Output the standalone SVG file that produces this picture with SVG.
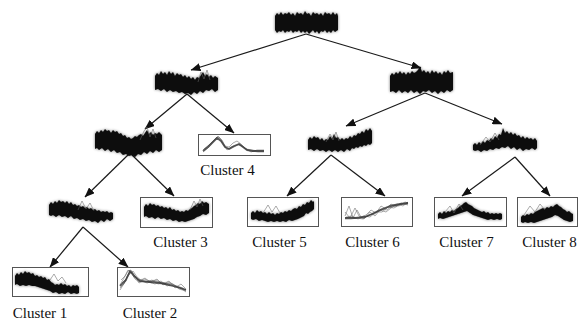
<svg xmlns="http://www.w3.org/2000/svg" width="578" height="322" viewBox="0 0 578 322">
<style>
.blob{fill:#0a0a0a;filter:url(#soft)}
.box{fill:#fff;stroke:#555;stroke-width:1}
.g{fill:none;stroke:#666;stroke-width:1;stroke-opacity:0.55;stroke-linejoin:round}
.dk{fill:none;stroke:#333;stroke-width:1.8;stroke-opacity:0.8;stroke-linejoin:round}
.edge{stroke:#1a1a1a;stroke-width:1.2;fill:none;marker-end:url(#ah)}
.lbl{font-family:"Liberation Serif","Times New Roman",serif;font-size:15px;fill:#111;text-anchor:middle}
</style>
<defs>
<filter id="soft" x="-10%" y="-30%" width="120%" height="160%">
<feGaussianBlur in="SourceGraphic" stdDeviation="1.4" result="h"/>
<feComponentTransfer in="h" result="h2"><feFuncA type="linear" slope="0.55"/></feComponentTransfer>
<feGaussianBlur in="SourceGraphic" stdDeviation="0.5" result="c"/>
<feMerge><feMergeNode in="h2"/><feMergeNode in="c"/></feMerge>
</filter>
<marker id="ah" viewBox="0 0 10 8" refX="9.5" refY="4" markerWidth="10" markerHeight="8" markerUnits="userSpaceOnUse" orient="auto"><path d="M0,0 L10,4 L0,8 Z" fill="#111"/></marker>
</defs>
<rect width="578" height="322" fill="#fff"/>
<g id="connectors">
<line class="edge" x1="306" y1="34" x2="191" y2="70"/>
<line class="edge" x1="306" y1="34" x2="421" y2="68"/>
<line class="edge" x1="187" y1="94" x2="145" y2="129"/>
<line class="edge" x1="187" y1="94" x2="234" y2="133"/>
<line class="edge" x1="425" y1="93" x2="346" y2="126"/>
<line class="edge" x1="425" y1="93" x2="502" y2="124"/>
<line class="edge" x1="130" y1="153" x2="85" y2="197"/>
<line class="edge" x1="130" y1="153" x2="174" y2="196"/>
<line class="edge" x1="331" y1="155" x2="287" y2="196"/>
<line class="edge" x1="331" y1="155" x2="385" y2="196"/>
<line class="edge" x1="515" y1="157" x2="462" y2="196"/>
<line class="edge" x1="515" y1="157" x2="550" y2="196"/>
<line class="edge" x1="83" y1="227" x2="50" y2="267"/>
<line class="edge" x1="83" y1="227" x2="128" y2="267"/>
</g>
<g id="root">
<polygon class="blob" points="275,16 277,13 279,15 281,12 283,15 285,13 287,14 289,12 291,15 293,13 295,16 297,12 299,14 301,13 303,15 305,11 307,14 309,13 311,16 313,12 315,14 317,13 319,15 321,13 323,16 325,12 327,14 329,13 331,15 333,12 335,15 337,13 338,16 338,30 335,32 333,30 331,33 329,31 327,33 325,30 323,32 321,31 319,34 317,31 315,33 313,30 311,32 309,34 307,31 305,33 303,31 301,33 299,30 297,32 295,31 293,33 291,30 289,32 287,31 285,33 283,30 281,32 279,31 277,33 275,30"/>
</g>
<g id="n-left">
<polygon class="blob" points="155,76 157,73 159,75 161,71 163,74 165,72 167,75 169,71 171,74 173,72 175,76 177,73 179,75 181,74 183,77 185,75 187,78 189,76 191,79 193,77 195,80 197,77 199,78 201,75 203,72 205,76 207,74 209,77 211,75 213,78 215,76 218,78 218,90 215,92 212,89 209,91 206,90 203,93 200,91 197,94 194,92 191,95 188,93 185,94 182,92 179,93 176,91 173,92 170,90 167,92 164,89 161,91 158,89 155,90"/>
<polyline class="g" points="198,82 201,72 204,79 207,70 210,80"/>
</g>
<g id="n-right">
<polygon class="blob" points="390,76 392,73 394,75 396,72 398,74 400,71 402,74 404,72 406,75 408,72 410,74 412,71 414,73 416,72 418,70 420,66 422,72 424,70 426,73 428,71 430,74 432,70 434,73 436,71 438,74 440,72 442,75 444,71 446,73 448,70 450,73 453,72 453,90 450,92 447,90 444,93 441,91 438,94 435,91 432,93 429,90 426,92 423,91 420,94 417,91 414,93 411,90 408,93 405,91 402,93 399,90 396,93 393,91 390,92"/>
</g>
<g id="n-ll">
<polygon class="blob" points="95,134 97,131 99,133 101,130 103,132 105,129 107,131 109,130 111,133 113,130 115,132 117,131 119,134 121,133 123,136 125,135 127,138 129,137 131,139 133,138 135,136 137,137 139,135 141,134 143,136 145,133 147,130 149,134 151,132 153,135 155,133 157,134 159,132 162,135 162,150 159,152 156,150 153,153 150,151 147,154 144,152 141,155 138,154 135,157 132,155 129,156 126,154 123,155 120,152 117,153 114,150 111,152 108,149 105,151 102,148 99,150 97,148 95,149"/>
<polyline class="g" points="140,140 144,131 147,127 150,137 153,129 156,138"/>
</g>
<g id="n-rl">
<polygon class="blob" points="308,140 310,137 312,139 314,136 316,138 318,137 320,140 322,138 324,141 326,139 328,140 330,136 332,139 334,134 336,138 338,137 340,140 342,138 344,140 346,138 348,139 350,136 352,138 354,135 356,136 358,133 360,134 362,131 364,133 366,129 368,131 370,128 372,131 372,143 370,145 368,144 366,146 364,145 362,147 360,146 358,148 356,147 354,149 352,148 350,151 347,149 344,152 341,150 338,152 335,150 332,152 329,150 326,152 323,150 320,151 317,149 314,151 311,149 308,150"/>
<polyline class="g" points="326,142 330,134 333,140 336,132 339,141"/>
</g>
<g id="n-rr">
<polygon class="blob" points="473,145 475,143 477,145 479,142 481,144 483,141 485,143 487,140 489,141 491,138 493,140 495,136 497,138 499,134 501,135 503,128 505,133 507,131 509,134 511,132 513,135 515,133 517,136 519,135 521,138 523,136 525,139 527,137 529,139 531,138 533,140 535,138 537,141 537,148 535,150 532,148 529,150 526,149 523,151 520,148 517,150 514,147 511,149 508,146 505,148 502,147 499,149 496,148 493,150 490,149 487,151 484,150 481,152 478,150 475,151 473,150"/>
<polyline class="g" points="480,145 486,137 490,142 495,133 499,140"/>
</g>
<g id="n-lll">
<polygon class="blob" points="49,205 51,202 53,204 55,201 57,203 59,200 61,202 63,201 65,203 67,201 69,204 71,202 73,205 75,204 77,206 79,205 81,207 83,206 85,208 87,207 89,209 91,208 93,210 95,209 97,211 99,210 101,212 103,211 105,212 107,211 109,213 111,212 113,213 113,219 110,221 107,219 104,222 101,220 98,223 95,221 92,222 89,220 86,221 83,219 80,220 77,218 74,219 71,216 68,218 65,216 62,217 59,215 56,217 53,215 51,216 49,215"/>
<polyline class="g" points="78,210 82,201 86,209 90,203 94,211"/>
</g>
<g id="cluster1">
<rect class="box" x="12.5" y="267.5" width="76" height="29"/>
<polygon class="blob" points="15,276 17,273 19,275 21,272 23,274 25,271 27,273 29,272 31,274 33,273 35,276 37,275 39,277 41,276 43,278 45,277 47,280 49,279 51,282 53,283 55,285 57,284 59,285 61,283 63,285 65,284 67,286 69,285 71,287 73,285 75,286 77,285 79,287 79,293 77,294 74,293 71,294 68,292 65,294 62,293 59,294 56,292 53,293 50,291 47,290 44,289 41,288 38,287 35,286 32,286 29,285 26,286 23,285 20,286 17,284 15,285"/>
<polyline class="g" points="50,280 54,274 58,281 62,277 66,283"/>
<text class="lbl" x="40" y="318">Cluster 1</text>
</g>
<g id="cluster2">
<rect class="box" x="117.5" y="267.5" width="72" height="29"/>
<polyline class="g" points="120,285 124,278 128,271 131,270 134,275 138,280 144,279 150,281 156,280 162,283 168,282 174,285 180,287 186,290"/>
<polyline class="g" points="120,290 125,282 129,273 132,272 136,278 140,281 146,282 152,280 158,284 164,283 170,286 176,286 182,289 186,292"/>
<polyline class="g" points="121,280 125,276 128,270 132,274 135,279 139,282 145,278 151,283 157,279 163,285 169,281 175,288 181,284 186,289"/>
<polyline class="g" points="120,288 124,284 127,276 131,271 135,276 139,283 143,281 149,282 155,284 161,281 167,286 173,284 179,289 186,291"/>
<polyline class="g" points="122,283 126,279 129,275 133,271 137,277 141,280 147,283 153,281 159,282 165,284 171,283 177,287 183,288 186,290"/>
<polyline class="dk" points="120,286 126,280 130,271 134,276 140,281 150,282 160,283 170,285 180,288 186,290"/>
<text class="lbl" x="150" y="318">Cluster 2</text>
</g>
<g id="cluster3">
<rect class="box" x="140.5" y="197.5" width="72" height="30"/>
<polygon class="blob" points="144,207 146,204 148,206 150,203 152,205 154,204 156,206 158,205 160,207 162,206 164,208 166,207 168,209 170,207 172,210 174,209 176,211 178,210 180,212 182,211 184,212 186,210 188,211 190,209 192,208 194,206 196,205 198,203 200,204 202,201 204,203 206,202 209,204 209,213 206,215 203,214 200,216 197,217 194,219 191,220 188,221 185,222 182,221 179,222 176,220 173,221 170,219 167,220 164,218 161,219 158,217 155,219 152,217 149,218 146,216 144,217"/>
<polyline class="g" points="190,210 194,201 197,207 200,199 203,206"/>
<text class="lbl" x="180.5" y="247">Cluster 3</text>
</g>
<g id="cluster4">
<rect class="box" x="198.5" y="134.5" width="72" height="21"/>
<polyline class="g" points="203,150 208,146 213,141 217,137 220,139 223,144 227,150 231,147 235,146 239,144 243,147 247,150 252,151 258,152 264,152"/>
<polyline class="g" points="203,152 208,148 212,143 216,139 219,137 222,141 226,148 230,149 234,147 238,145 242,146 246,149 252,150 258,151 264,151"/>
<polyline class="g" points="204,149 209,145 214,140 218,136 222,140 225,146 229,147 233,143 237,141 241,144 245,148 251,152 257,150 264,150"/>
<polyline class="dk" points="203,151 208,147 213,142 217,138 221,141 225,147 229,149 234,146 239,144 243,147 247,150 253,151 259,151 264,151"/>
<text class="lbl" x="227.5" y="175">Cluster 4</text>
</g>
<g id="cluster5">
<rect class="box" x="247.5" y="197.5" width="71" height="29"/>
<polygon class="blob" points="251,213 253,211 255,213 257,210 259,212 261,211 263,213 265,212 267,214 269,212 271,214 273,213 275,215 277,213 279,214 281,212 283,213 285,211 287,212 289,210 291,211 293,209 295,208 297,209 299,206 301,207 303,204 305,205 307,202 309,203 311,200 313,202 314,201 314,209 312,211 310,212 308,214 306,213 304,216 302,217 300,218 298,219 295,220 292,221 289,220 286,222 283,221 280,222 277,221 274,222 271,221 268,222 265,221 262,220 259,221 256,219 253,220 251,219"/>
<polyline class="g" points="263,213 268,205 272,212 276,206 280,213"/>
<text class="lbl" x="279.5" y="247">Cluster 5</text>
</g>
<g id="cluster6">
<rect class="box" x="341.5" y="197.5" width="71" height="29"/>
<polyline class="g" points="345,218 350,217 356,218 362,217 368,216 374,213 380,211 386,208 392,207 398,205 404,204 408,203"/>
<polyline class="g" points="345,216 349,206 353,218 357,210 361,217 366,215 371,210 376,213 381,206 386,209 391,204 396,207 401,203 408,205"/>
<polyline class="g" points="345,219 351,219 357,218 363,219 369,215 375,214 381,209 387,210 393,205 399,206 405,202 408,203"/>
<polyline class="g" points="345,212 350,218 355,208 359,216 364,219 370,212 375,216 380,210 386,212 391,208 397,204 403,206 408,202"/>
<polyline class="g" points="346,217 352,216 358,219 364,216 370,217 376,212 382,212 388,207 394,208 400,204 408,204"/>
<polyline class="dk" points="345,218 355,218 365,217 372,214 380,210 390,206 400,204 408,203"/>
<text class="lbl" x="372.5" y="247">Cluster 6</text>
</g>
<g id="cluster7">
<rect class="box" x="434.5" y="197.5" width="72" height="29"/>
<polygon class="blob" points="438,214 440,212 442,214 444,211 446,213 448,211 450,212 452,210 454,211 456,209 458,208 460,206 462,205 464,203 466,202 468,204 470,205 472,206 474,208 476,209 478,210 480,211 482,212 484,211 486,213 488,212 490,214 492,213 494,214 496,213 498,214 500,213 502,214 502,219 500,220 497,219 494,220 491,219 488,220 485,219 482,218 479,217 476,216 473,215 470,213 467,211 464,212 461,213 458,214 455,215 452,216 449,217 446,218 443,219 440,218 438,219"/>
<polyline class="g" points="445,212 450,206 454,213 459,204 463,210"/>
<text class="lbl" x="466.5" y="247">Cluster 7</text>
</g>
<g id="cluster8">
<rect class="box" x="517.5" y="197.5" width="60" height="29"/>
<polygon class="blob" points="521,217 523,215 525,216 527,214 529,215 531,213 533,214 535,212 537,211 539,210 541,209 543,208 545,209 547,207 549,208 551,206 553,207 555,205 557,204 559,206 561,207 563,209 565,210 567,212 569,211 571,213 573,214 573,221 570,222 567,221 564,220 561,218 558,216 555,215 552,217 549,218 546,219 543,220 540,221 537,222 534,223 531,222 528,223 525,222 523,223 521,222"/>
<polyline class="g" points="524,215 530,206 535,212 540,204 545,210"/>
<text class="lbl" x="549.5" y="247">Cluster 8</text>
</g>
</svg>
